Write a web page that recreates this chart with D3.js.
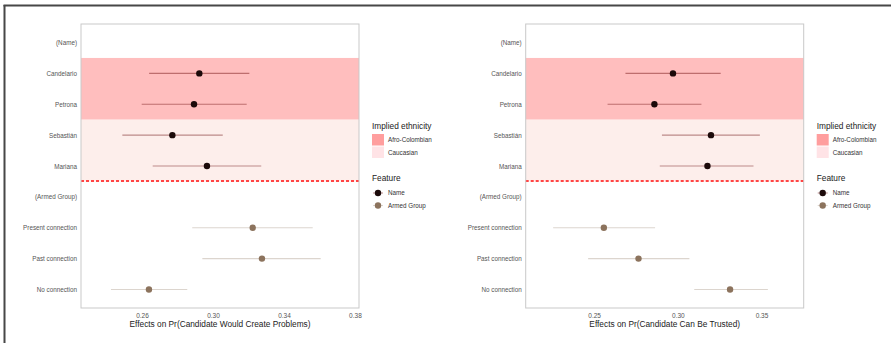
<!DOCTYPE html>
<html>
<head>
<meta charset="utf-8">
<script src="https://cdn.jsdelivr.net/npm/d3@7"></script>
<style>
  html, body { margin: 0; padding: 0; background: #fff; }
  svg { display: block; font-family: "Liberation Sans", Arial, Helvetica, sans-serif; }
</style>
</head>
<body>
<svg id="chart" width="891" height="343"></svg>
<script>
// Row order of the coefficient plot (group headers in parentheses)
const levels = ["(Name)", "Candelario", "Petrona", "Sebastián", "Mariana",
                "(Armed Group)", "Present connection", "Past connection", "No connection"];
const features = [null, "Name", "Name", "Name", "Name", null, "Armed Group", "Armed Group", "Armed Group"];

// Panel 1: Pr(Candidate Would Create Problems)
const problemsEst   = [null, 0.2923, 0.2893, 0.2771, 0.2966, null, 0.3224, 0.3276, 0.2639];
const problemsLower = [null, 0.2640, 0.2598, 0.2489, 0.2660, null, 0.2883, 0.2940, 0.2425];
const problemsUpper = [null, 0.3205, 0.3190, 0.3055, 0.3272, null, 0.3562, 0.3607, 0.2855];
const problemsTicks = [0.26, 0.30, 0.34, 0.38];

// Panel 2: Pr(Candidate Can Be Trusted)
const trustEst   = [null, 0.2971, 0.2860, 0.3198, 0.3177, null, 0.2558, 0.2765, 0.3312];
const trustLower = [null, 0.2687, 0.2580, 0.2905, 0.2892, null, 0.2255, 0.2464, 0.3098];
const trustUpper = [null, 0.3256, 0.3141, 0.3490, 0.3452, null, 0.2864, 0.3069, 0.3538];
const trustTicks = [0.25, 0.30, 0.35];

// Ethnicity shading bands (first and last level covered)
const ethnicity = ["Afro-Colombian", "Caucasian"];
const ethnicityRows = [["Candelario", "Petrona"], ["Sebastián", "Mariana"]];
const featureNames = ["Name", "Armed Group"];

const ethnicityColor = d3.scaleOrdinal().domain(ethnicity).range(["#ffbebe", "#fdeeeb"]);
const ethnicityKey = d3.scaleOrdinal().domain(ethnicity).range(["#ff9e9e", "#ffe3e6"]);
const featureColor = d3.scaleOrdinal().domain(featureNames).range(["#1c0a0a", "#8c735d"]);
const featureLine = d3.scaleOrdinal().domain(featureNames).range(["rgba(100,0,0,0.42)", "rgba(140,115,93,0.3)"]);

const svg = d3.select("#chart");

// outer frame
svg.append("line").attr("x1", 3.5).attr("x2", 891).attr("y1", 5.5).attr("y2", 5.5)
  .attr("stroke", "#474747").attr("stroke-width", 2);
svg.append("line").attr("x1", 4.5).attr("x2", 4.5).attr("y1", 5).attr("y2", 343)
  .attr("stroke", "#474747").attr("stroke-width", 2);

function drawPanel(offsetX, domain, ticks, est, lower, upper, title) {
  const g = svg.append("g").attr("transform", `translate(${offsetX},0)`);
  const left = 81, right = 359, top = 24, bottom = 308;

  const x = d3.scaleLinear().domain(domain).range([left, right]);
  const y = d3.scalePoint().domain(levels).range([top, bottom]).padding(0.6);
  const step = y.step();

  // shaded ethnicity bands
  ethnicity.forEach((e, i) => {
    const [a, b] = ethnicityRows[i];
    g.append("rect")
      .attr("x", left).attr("width", right - left)
      .attr("y", y(a) - step / 2).attr("height", y(b) - y(a) + step)
      .attr("fill", ethnicityColor(e));
  });

  // separator between the name block and the armed-group block
  const sepY = Math.round((y("Mariana") + y("(Armed Group)")) / 2);
  g.append("line").attr("x1", left).attr("x2", right).attr("y1", sepY).attr("y2", sepY)
    .attr("stroke", "#ff4545").attr("stroke-width", 2).attr("stroke-dasharray", "3,2");

  // panel border
  g.append("rect").attr("x", left).attr("y", top).attr("width", right - left).attr("height", bottom - top)
    .attr("fill", "none").attr("stroke", "#c9c9c9").attr("stroke-width", 1);

  const rows = levels.map((l, i) => ({ level: l, feature: features[i], est: est[i], lo: lower[i], hi: upper[i] }))
    .filter(d => d.est !== null);

  g.selectAll("line.ci").data(rows).join("line").attr("class", "ci")
    .attr("x1", d => x(d.lo)).attr("x2", d => x(d.hi))
    .attr("y1", d => y(d.level)).attr("y2", d => y(d.level))
    .attr("stroke", d => featureLine(d.feature)).attr("stroke-width", 1.1);

  g.selectAll("circle.pt").data(rows).join("circle").attr("class", "pt")
    .attr("cx", d => x(d.est)).attr("cy", d => y(d.level)).attr("r", 3.2)
    .attr("fill", d => featureColor(d.feature));

  // y axis labels
  const ya = g.append("g").attr("transform", `translate(${left},0)`)
    .call(d3.axisLeft(y).tickSize(0).tickPadding(4));
  ya.select(".domain").remove();
  ya.selectAll("text").attr("fill", "#555").style("font-size", "6.3px")
    .style("font-family", "'Liberation Sans', Arial, sans-serif");

  // x axis
  const xa = g.append("g").attr("transform", `translate(0,${bottom})`)
    .call(d3.axisBottom(x).tickValues(ticks).tickFormat(d3.format(".2f")).tickSize(0).tickPadding(5));
  xa.select(".domain").remove();
  xa.selectAll("text").attr("fill", "#555").style("font-size", "6.5px")
    .style("font-family", "'Liberation Sans', Arial, sans-serif");

  g.append("text").attr("x", (left + right) / 2).attr("y", 326.5).attr("text-anchor", "middle")
    .attr("fill", "#222").style("font-size", "8.3px").text(title);

  // legends
  const lx = 372;
  g.append("text").attr("x", lx).attr("y", 129).attr("fill", "#222").style("font-size", "8.3px")
    .text("Implied ethnicity");
  ethnicity.forEach((e, i) => {
    const ky = 134 + i * 12.5;
    g.append("rect").attr("x", lx).attr("y", ky).attr("width", 12).attr("height", 11.5)
      .attr("fill", ethnicityKey(e));
    g.append("text").attr("x", lx + 16).attr("y", ky + 8).attr("fill", "#333")
      .style("font-size", "6.3px").text(e);
  });

  g.append("text").attr("x", lx).attr("y", 181).attr("fill", "#222").style("font-size", "8.3px")
    .text("Feature");
  featureNames.forEach((f, i) => {
    const ky = 193 + i * 12.5;
    g.append("line").attr("x1", lx + 1).attr("x2", lx + 11).attr("y1", ky).attr("y2", ky)
      .attr("stroke", featureLine(f)).attr("stroke-width", 1.1);
    g.append("circle").attr("cx", lx + 6).attr("cy", ky).attr("r", 3.2).attr("fill", featureColor(f));
    g.append("text").attr("x", lx + 16).attr("y", ky + 2.3).attr("fill", "#333")
      .style("font-size", "6.3px").text(f);
  });
}

drawPanel(0, [0.2256, 0.3823], problemsTicks, problemsEst, problemsLower, problemsUpper,
  "Effects on Pr(Candidate Would Create Problems)");
drawPanel(444.7, [0.2091, 0.3752], trustTicks, trustEst, trustLower, trustUpper,
  "Effects on Pr(Candidate Can Be Trusted)");
</script>
</body>
</html>
